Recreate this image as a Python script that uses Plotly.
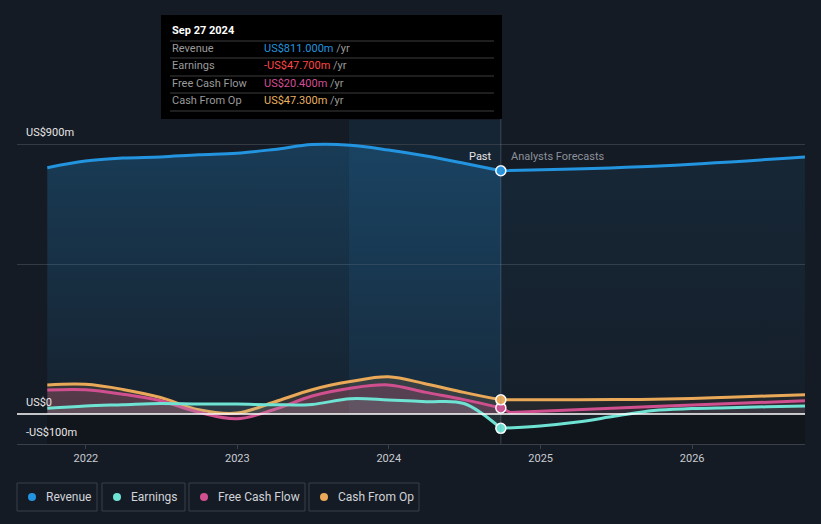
import plotly.graph_objects as go

# past (trailing twelve months, quarterly)
past_dates = ["2021-09-30", "2021-12-31", "2022-03-31", "2022-06-30", "2022-09-30",
              "2022-12-31", "2023-03-31", "2023-06-30", "2023-09-30", "2023-12-31",
              "2024-03-31", "2024-06-30", "2024-09-27"]
revenue_past = [821, 843, 853, 857, 864, 869, 882, 898, 896, 880, 860, 836, 811]
earnings_past = [19, 27, 31, 35, 33, 33, 31, 32, 51, 47, 41, 35, -47.7]
fcf_past = [80, 81, 66, 44, 6, -16, 15, 60, 86, 97, 72, 48, 20.4]
cfo_past = [97, 99, 82, 55, 14, 3, 40, 81, 108, 124, 100, 72, 47.3]

# analyst forecasts
rev_fc_dates = ["2024-09-27", "2025-09-30", "2026-09-30"]
revenue_fc = [811, 826, 857]
fc_dates = ["2024-09-27", "2024-12-31", "2025-03-31", "2025-06-30", "2025-09-30",
            "2025-12-31", "2026-03-31", "2026-06-30", "2026-09-30"]
earnings_fc = [-47.7, -40, -27, -7, 12, 18, 21, 24, 27]
cfo_fc = [47.3, 47.5, 47.8, 48, 49, 52, 56, 60, 64]
fcf_fc_dates = ["2024-09-27", "2024-10-20", "2025-09-30", "2026-09-30"]
fcf_fc = [20.4, 5, 25, 44]

names = ["Revenue", "Earnings", "Free Cash Flow", "Cash From Op"]
colors = ["#2394df", "#6fe3d3", "#d0508f", "#e9a958"]
tip_values = ["US$811.000m", "-US$47.700m", "US$20.400m", "US$47.300m"]
tip_colors = ["#2394df", "#ff4545", "#d44f96", "#e8b060"]

BG = "#151b24"
FONT = "Roboto"
L, T, W, H = 17, 120, 788, 324  # plot area in px


def px(x):
    return (x - L) / W


def py(y):
    return (T + H - y) / H


fig = go.Figure()

# revenue
fig.add_scatter(x=past_dates, y=revenue_past, mode="lines", line=dict(color=colors[0], width=3, shape="spline"),
                fill="tozeroy", fillgradient=dict(type="vertical", start=0, stop=900,
                                                   colorscale=[[0, "rgba(35,148,223,0.05)"], [1, "rgba(35,148,223,0.27)"]]))
fig.add_scatter(x=rev_fc_dates, y=revenue_fc, mode="lines", line=dict(color=colors[0], width=3, shape="spline"),
                fill="tozeroy", fillgradient=dict(type="vertical", start=0, stop=900,
                                                   colorscale=[[0, "rgba(35,148,223,0.03)"], [1, "rgba(35,148,223,0.10)"]]))

# small series, past then forecast
fig.add_scatter(x=past_dates, y=cfo_past, mode="lines", line=dict(color=colors[3], width=3, shape="spline"),
                fill="tozeroy", fillcolor="rgba(232,168,90,0.15)")
fig.add_scatter(x=past_dates, y=fcf_past, mode="lines", line=dict(color=colors[2], width=3, shape="spline"),
                fill="tozeroy", fillcolor="rgba(200,75,139,0.22)")
fig.add_scatter(x=past_dates, y=earnings_past, mode="lines", line=dict(color=colors[1], width=3, shape="spline"),
                fill="tozeroy", fillcolor="rgba(160,200,200,0.15)")

fig.add_scatter(x=fc_dates, y=cfo_fc, mode="lines", line=dict(color=colors[3], width=3, shape="spline"),
                fill="tozeroy", fillcolor="rgba(232,168,90,0.07)")
fig.add_scatter(x=fcf_fc_dates, y=fcf_fc, mode="lines", line=dict(color=colors[2], width=3),
                fill="tozeroy", fillcolor="rgba(200,75,139,0.08)")
fig.add_scatter(x=fc_dates, y=earnings_fc, mode="lines", line=dict(color=colors[1], width=3, shape="spline"),
                fill="tozeroy", fillcolor="rgba(160,200,200,0.07)")

# markers at the last reported date
last_vals = [revenue_past[-1], earnings_past[-1], fcf_past[-1], cfo_past[-1]]
for v, c in zip(last_vals, colors):
    fig.add_scatter(x=[past_dates[-1]], y=[v], mode="markers",
                    marker=dict(color=c, size=10, line=dict(color="white", width=1.5)))

shapes = [
    # darker area under zero
    dict(type="rect", xref="x", yref="y", x0=past_dates[0], x1=fc_dates[-1], y0=-100, y1=0,
         fillcolor="#11151c", line_width=0, layer="below"),
    # last year highlight
    dict(type="rect", xref="x", yref="paper", x0="2023-09-27", x1=past_dates[-1], y0=0, y1=1,
         fillcolor="rgba(35,148,223,0.09)", line_width=0, layer="below"),
    # hover line
    dict(type="line", xref="x", yref="paper", x0=past_dates[-1], x1=past_dates[-1], y0=0, y1=py(119),
         line=dict(color="rgba(120,150,180,0.35)", width=1)),
    # zero line
    dict(type="line", xref="paper", yref="y", x0=0, x1=1, y0=0, y1=0, line=dict(color="white", width=1.5)),
    # tooltip box
    dict(type="rect", xref="paper", yref="paper", x0=px(161), x1=px(502), y0=py(119), y1=py(15),
         fillcolor="black", line_width=0),
]
for sy in [41, 58, 76, 93, 111]:
    shapes.append(dict(type="line", xref="paper", yref="paper", x0=px(170), x1=px(494), y0=py(sy), y1=py(sy),
                       line=dict(color="#3c3c3c", width=1)))

annotations = [
    dict(text="<b>Sep 27 2024</b>", x=px(170), y=py(31), xanchor="left", yanchor="middle",
         font=dict(color="white", size=11)),
]
for i, row_y in enumerate([49, 66, 84, 101]):
    annotations.append(dict(text=names[i], x=px(170), y=py(row_y), xanchor="left", yanchor="middle",
                            font=dict(color="#9a9a9a", size=11)))
    annotations.append(dict(text=f"<span style='color:{tip_colors[i]}'>{tip_values[i]}</span> /yr",
                            x=px(262), y=py(row_y), xanchor="left", yanchor="middle",
                            font=dict(color="#9a9a9a", size=11)))

# y labels sit above their lines
for val, lab in [(900, "US$900m"), (0, "US$0"), (-100, "-US$100m")]:
    annotations.append(dict(text=lab, xref="paper", yref="y", x=px(24), y=val, xanchor="left",
                            yanchor="bottom", yshift=3, font=dict(color="#e6e6e6", size=11)))

annotations.append(dict(text="Past", x=px(494), y=py(156), xanchor="right", yanchor="middle",
                        font=dict(color="#e6e6e6", size=11)))
annotations.append(dict(text="Analysts Forecasts", x=px(509), y=py(156), xanchor="left", yanchor="middle",
                        font=dict(color="#8c919a", size=11)))

# legend boxes
boxes = [(17, 97), (102, 185), (189, 305), (309, 419)]
for (b0, b1), name, c in zip(boxes, names, colors):
    shapes.append(dict(type="rect", xref="paper", yref="paper", x0=px(b0), x1=px(b1), y0=py(511), y1=py(483),
                       line=dict(color="#3a404a", width=1), fillcolor="rgba(0,0,0,0)"))
    cx = b0 + 15
    shapes.append(dict(type="circle", xref="paper", yref="paper", x0=px(cx - 4), x1=px(cx + 4),
                       y0=py(501), y1=py(493), fillcolor=c, line_width=0))
    annotations.append(dict(text=name, x=px(b0 + 27), y=py(497), xanchor="left", yanchor="middle",
                            font=dict(color="#d0d3d8", size=12)))

for a in annotations:
    a.setdefault("xref", "paper")
    a.setdefault("yref", "paper")
    a["showarrow"] = False

fig.update_layout(
    width=821, height=524, autosize=False,
    margin=dict(l=L, r=821 - L - W, t=T, b=524 - T - H),
    paper_bgcolor=BG, plot_bgcolor=BG,
    font=dict(family=FONT, color="#c8ccd2", size=11),
    showlegend=False,
    shapes=shapes, annotations=annotations,
    xaxis=dict(type="date", range=["2021-07-19", "2026-09-30"],
               tickvals=["2022-01-01", "2023-01-01", "2024-01-01", "2025-01-01", "2026-01-01"],
               ticktext=["2022", "2023", "2024", "2025", "2026"],
               showgrid=False, zeroline=False, showline=True, linecolor="#3a404a", linewidth=1,
               ticks="outside", ticklen=4, tickcolor="#3a404a", tickfont=dict(color="#c8ccd2", size=11)),
    yaxis=dict(range=[-100, 980], tickvals=[500, 900], showticklabels=False, showgrid=True,
               gridcolor="#343a44", gridwidth=1, zeroline=False, fixedrange=True),
)

# the page body has a default 8px margin; drop it so the figure fills the window
fig.write_html("out.html", config={"displayModeBar": False},
               post_script="document.body.style.margin='0';")
